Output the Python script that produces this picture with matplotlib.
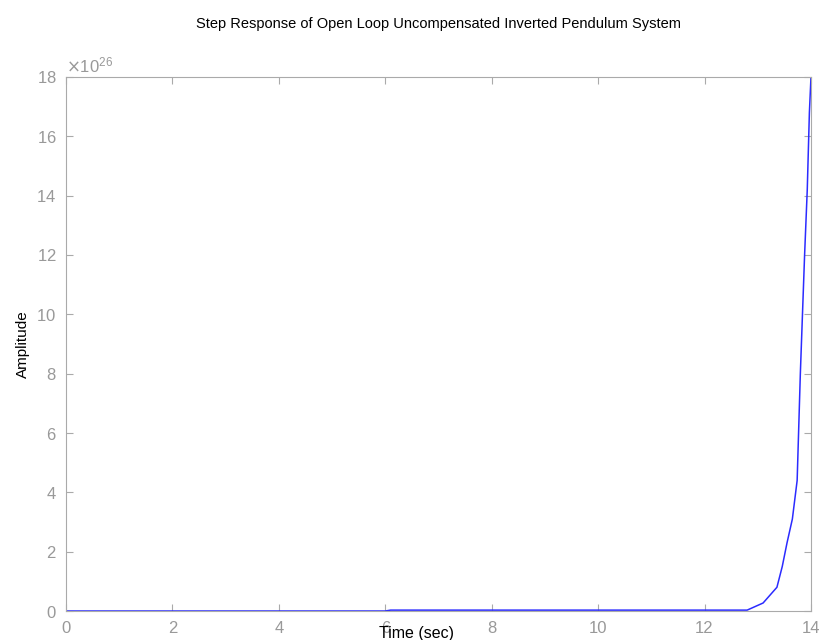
import matplotlib
matplotlib.use('Agg')
import matplotlib.pyplot as plt
from matplotlib.ticker import ScalarFormatter

plt.rcParams['font.family'] = ['Liberation Sans', 'DejaVu Sans']

# step response samples (amplitude in units of 1e26)
t = [0.0, 6.0, 6.1, 12.8, 13.1, 13.36, 13.46, 13.55, 13.65, 13.74, 13.80, 13.88, 13.93, 13.97, 14.0]
amp = [0.0, 0.0, 0.03, 0.03, 0.27, 0.8, 1.5, 2.3, 3.1, 4.4, 8.0, 12.0, 14.2, 16.8, 18.0]
scale = 1e26

xticks = [0, 2, 4, 6, 8, 10, 12, 14]
yticks = [0, 2, 4, 6, 8, 10, 12, 14, 16, 18]

fig = plt.figure(figsize=(8.22, 6.40), dpi=100)
ax = fig.add_axes([0.0803, 0.0453, 0.9063, 0.8344])

ax.plot(t, [a * scale for a in amp], color='#2b2bff', linewidth=1.1)

ax.set_xlim(0, 14)
ax.set_ylim(0, 18 * scale)
ax.set_xticks(xticks)
ax.set_yticks([v * scale for v in yticks])

# fixed exponent so the axis reads x10^26
fmt = ScalarFormatter(useMathText=True)
fmt.set_powerlimits((26, 26))
ax.yaxis.set_major_formatter(fmt)
ax.yaxis.get_offset_text().set_color('#999999')
ax.yaxis.get_offset_text().set_fontsize(12)

grey = '#aaaaaa'
for sp in ax.spines.values():
    sp.set_color(grey)
ax.tick_params(direction='in', top=True, right=True, colors=grey,
               labelcolor='#999999', labelsize=12, length=5, pad=7)

ax.set_title('Step Response of Open Loop Uncompensated Inverted Pendulum System',
             fontsize=10.5, pad=35)
ax.set_ylabel('Amplitude', fontsize=11)
ax.set_xlabel('Time (sec)', fontsize=11.5)
ax.xaxis.set_label_coords(0.471, -0.028)
ax.yaxis.set_label_coords(-0.048, 0.5)

fig.savefig('out.png', dpi=100)
